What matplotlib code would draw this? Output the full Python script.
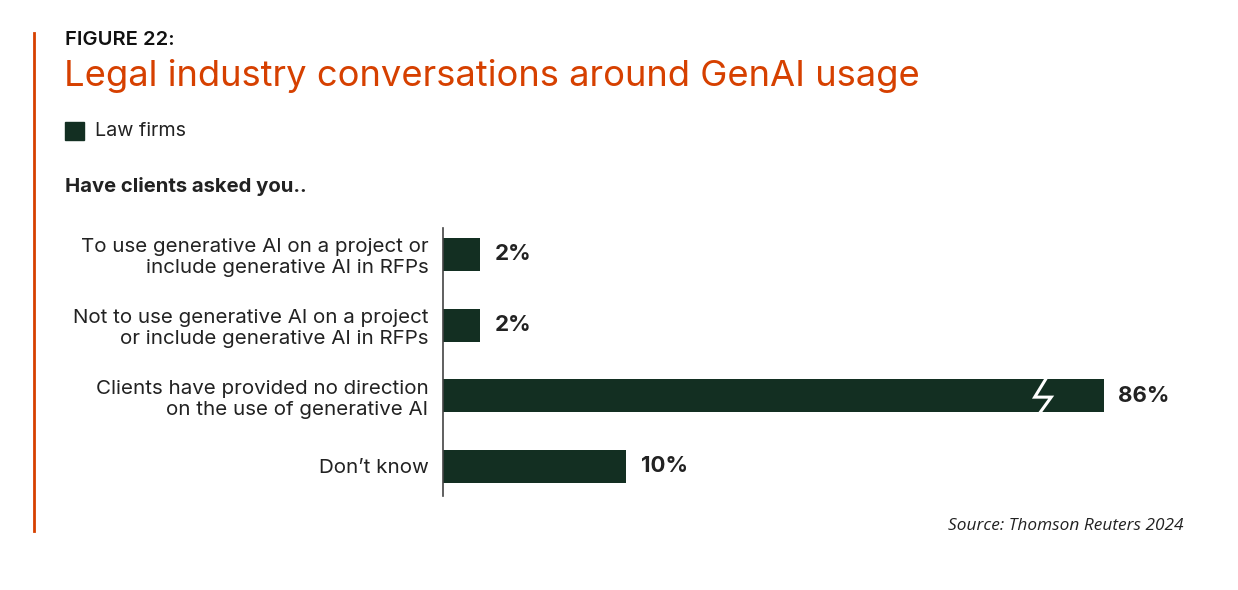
import matplotlib.pyplot as plt
from matplotlib.patches import Rectangle

# data
categories = [
    'To use generative AI on a project or\ninclude generative AI in RFPs',
    'Not to use generative AI on a project\nor include generative AI in RFPs',
    'Clients have provided no direction\non the use of generative AI',
    'Don\u2019t know',
]
law_firms = [2, 2, 86, 10]
value_labels = ['2%', '2%', '86%', '10%']
x_max = 36  # axis is broken beyond this

BAR = '#132f22'
ORANGE = '#d64000'
TEXT = '#222222'

plt.rcParams['font.family'] = ['Inter', 'DejaVu Sans']

fig = plt.figure(figsize=(12.38, 5.9), dpi=100)
W, H = 1238, 590

# left accent line
fig.add_artist(plt.Line2D([34 / W, 34 / W], [1 - 33 / H, 1 - 531 / H], color=ORANGE, lw=2))

fig.text(65 / W, 1 - 40 / H, 'FIGURE 22:', fontsize=14.5, fontweight='semibold', color='#111111', va='center')
fig.text(64 / W, 1 - 76 / H, 'Legal industry conversations around GenAI usage', fontsize=26.2,
         color=ORANGE, va='center')
fig.add_artist(Rectangle((65 / W, 1 - 140 / H), 19 / W, 18 / H, color=BAR))
fig.text(95 / W, 1 - 131 / H, 'Law firms', fontsize=14.2, color=TEXT, va='center')
fig.text(65 / W, 1 - 187 / H, 'Have clients asked you..', fontsize=14.6, fontweight='bold', color=TEXT,
         va='center')
fig.text(1183 / W, 1 - 526 / H, 'Source: Thomson Reuters 2024', fontsize=12.4, style='italic',
         color=TEXT, ha='right', va='center', family=['Open Sans', 'DejaVu Sans'])

ax = fig.add_axes([443 / W, 1 - 496 / H, (1103.5 - 443) / W, (496 - 228) / H])
y = list(range(len(categories)))
shown = [min(v, x_max) for v in law_firms]
ax.barh(y, shown, height=0.47, color=BAR)
ax.set_xlim(0, x_max)
ax.set_ylim(3.42, -0.375)

for yi, v, s, lab in zip(y, law_firms, shown, value_labels):
    ax.text(s + 0.8, yi, lab, fontsize=16, fontweight='bold', color=TEXT, va='center')
    if v > x_max:
        # break mark on the truncated bar
        bx = s - 3.3
        ax.plot([bx + 0.15, bx - 0.45, bx + 0.45, bx - 0.15], [yi - 0.235, yi + 0.02, yi + 0.02, yi + 0.235],
                color='white', lw=2.2, solid_joinstyle='miter', clip_on=False)

ax.set_yticks(y)
ax.set_yticklabels(categories, fontsize=14.8, color=TEXT, ha='right', linespacing=1.2)
ax.tick_params(axis='y', length=0, pad=10.5)
ax.set_xticks([])
for side in ['top', 'right', 'bottom']:
    ax.spines[side].set_visible(False)
ax.spines['left'].set_color('#444444')
ax.spines['left'].set_linewidth(1.2)

fig.savefig('out.png', dpi=100, facecolor='white')
